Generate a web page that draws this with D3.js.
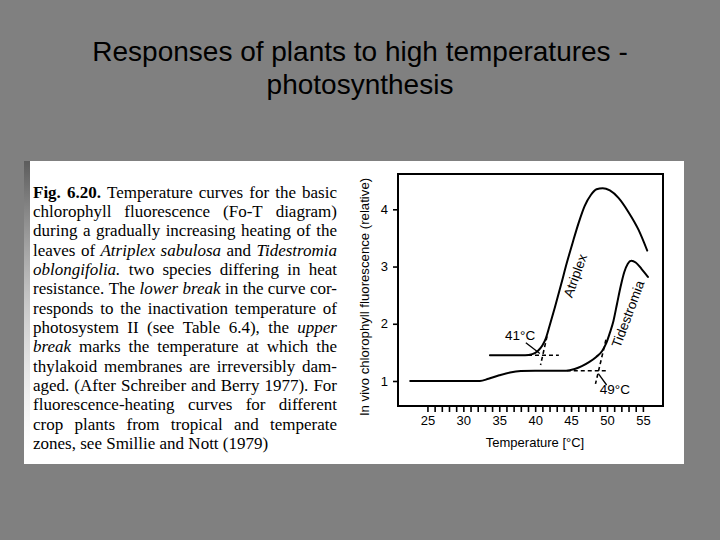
<!DOCTYPE html>
<html><head><meta charset="utf-8">
<script src="https://cdn.jsdelivr.net/npm/d3@7"></script>
<style>html,body{margin:0;padding:0;background:#808080;} svg{display:block}</style>
</head><body>
<svg id="c" width="720" height="540"></svg>
<script>
// ---------- data ----------
const titleLines = ["Responses of plants to high temperatures -", "photosynthesis"];

const captionLines = [
  [["Fig. 6.20.", "b"], ["Temperature curves for the basic", "r"]],
  [["chlorophyll fluorescence (Fo-T diagram)", "r"]],
  [["during a gradually increasing heating of the", "r"]],
  [["leaves of", "r"], ["Atriplex sabulosa", "i"], ["and", "r"], ["Tidestromia", "i"]],
  [["oblongifolia.", "i"], ["two species differing in heat", "r"]],
  [["resistance. The", "r"], ["lower break", "i"], ["in the curve cor-", "r"]],
  [["responds to the inactivation temperature of", "r"]],
  [["photosystem II (see Table 6.4), the", "r"], ["upper", "i"]],
  [["break", "i"], ["marks the temperature at which the", "r"]],
  [["thylakoid membranes are irreversibly dam-", "r"]],
  [["aged. (After Schreiber and Berry 1977). For", "r"]],
  [["fluorescence-heating curves for different", "r"]],
  [["crop plants from tropical and temperate", "r"]],
  [["zones, see Smillie and Nott (1979)", "r"]]
];

const xTicks = [25,26,27,28,29,30,31,32,33,34,35,36,37,38,39,40,41,42,43,44,45,46,47,48,49,50,51,52,53,54,55];
const xTickLabels = [25,30,35,40,45,50,55];
const yTicks = [1,2,3,4];
const xTitle = "Temperature [°C]";
const yTitle = "In vivo chlorophyll fluorescence (relative)";

const atriplex = [[33.7,1.45],[38.6,1.45],[39.6,1.47],[40.4,1.53],[41.0,1.62],[41.5,1.75],[42.0,1.96],
  [42.75,2.29],[43.6,2.68],[44.4,3.06],[45.25,3.43],[46.1,3.78],[46.9,4.06],[47.75,4.25],[48.55,4.35],
  [49.4,4.37],[50.4,4.33],[51.6,4.2],[53.0,3.95],[54.4,3.64],[55.6,3.28]];
const tidestromia = [[22.6,1.0],[32.3,1.0],[33.5,1.04],[35.0,1.1],[36.5,1.15],[38.0,1.175],[40.0,1.18],
  [44.3,1.18],[45.5,1.21],[46.5,1.26],[47.5,1.33],[48.5,1.42],[49.3,1.52],[49.9,1.66],[50.4,1.84],
  [50.9,2.05],[51.4,2.35],[51.9,2.65],[52.4,2.9],[52.9,3.05],[53.4,3.1],[54.0,3.07],[54.8,2.96],[55.7,2.82]];

const dashedLines = [
  [[39.0,1.45],[43.3,1.45]],
  [[41.65,1.78],[40.75,1.28]],
  [[44.4,1.18],[50.0,1.18]],
  [[49.85,1.72],[48.4,0.95]]
];
const pointerLines = [
  [[38.7,1.67],[40.65,1.48]],
  [[48.8,1.13],[49.95,0.93]]
];
const annotations = [
  {text:"41°C", t:37.9, v:1.80, rot:0},
  {text:"49°C", t:51.1, v:0.86, rot:0}
];
const curveLabels = [
  {text:"Atriplex", t:45.6, v:2.84, rot:-70},
  {text:"Tidestromia", t:52.95, v:2.17, rot:-69.5}
];

// ---------- drawing ----------
const svg = d3.select("#c");
svg.append("rect").attr("width",720).attr("height",540).attr("fill","#808080");

// title
svg.append("g").selectAll("text").data(titleLines).join("text")
  .attr("x",360).attr("y",(d,i)=>61+i*33)
  .attr("text-anchor","middle")
  .attr("font-family","'Liberation Sans', Arial, sans-serif")
  .attr("font-size",28).attr("fill","#000").text(d=>d);

// white panel
svg.append("rect").attr("x",24).attr("y",161).attr("width",660).attr("height",303).attr("fill","#fff");
const defs = svg.append("defs");
const grad = defs.append("linearGradient").attr("id","scan").attr("x1",0).attr("y1",0).attr("x2",0).attr("y2",1);
grad.append("stop").attr("offset","0").attr("stop-color","#333").attr("stop-opacity",0.8);
grad.append("stop").attr("offset","0.5").attr("stop-color","#666").attr("stop-opacity",0.35);
grad.append("stop").attr("offset","1").attr("stop-color","#999").attr("stop-opacity",0.0);
svg.append("rect").attr("x",24).attr("y",161).attr("width",6).attr("height",290).attr("fill","url(#scan)");

// caption
const cap = svg.append("g")
  .attr("font-family","'Liberation Serif', 'Times New Roman', serif")
  .attr("font-size",17).attr("fill","#000");
const capLeft = 33, capRight = 337, capTop = 197.5, capLead = 19.35;
captionLines.forEach((segs,i)=>{
  const words = [];
  segs.forEach(([t,s])=>t.split(" ").forEach(w=>words.push([w,s])));
  const yb = capTop + i*capLead;
  const els = words.map(([w,s])=>cap.append("text").attr("y",yb)
    .attr("font-weight", s==="b" ? "bold" : null)
    .attr("font-style", s==="i" ? "italic" : null).text(w));
  const widths = els.map(e=>e.node().getComputedTextLength());
  const total = d3.sum(widths);
  const last = i === captionLines.length-1;
  const gap = last ? 17*0.25 : (capRight-capLeft-total)/(words.length-1);
  let xx = capLeft;
  els.forEach((e,k)=>{ e.attr("x",xx); xx += widths[k]+gap; });
});

// chart
const x = d3.scaleLinear().domain([20.9,57.8]).range([398,663]);
const y = d3.scaleLinear().domain([0.563,4.617]).range([406,174]);
const sans = "'Liberation Sans', Arial, sans-serif";

const xAxis = svg.append("g").attr("transform",`translate(0,${y.range()[0]})`)
  .call(d3.axisBottom(x).tickValues(xTicks).tickSize(6).tickPadding(4)
    .tickFormat(d=>xTickLabels.includes(d) ? d : ""));
const yAxis = svg.append("g").attr("transform",`translate(${x.range()[0]},0)`)
  .call(d3.axisLeft(y).tickValues(yTicks).tickSize(5).tickPadding(5).tickFormat(d3.format("d")));
[xAxis,yAxis].forEach(a=>{
  a.select(".domain").remove();
  a.selectAll(".tick line").attr("stroke","#000").attr("stroke-width",1.6);
  a.selectAll("text").attr("font-family",sans).attr("font-size",13).attr("fill","#000");
});

svg.append("rect").attr("x",x.range()[0]).attr("y",y.range()[1])
  .attr("width",x.range()[1]-x.range()[0]).attr("height",y.range()[0]-y.range()[1])
  .attr("fill","none").attr("stroke","#000").attr("stroke-width",2);

svg.append("text").attr("x",535).attr("y",447).attr("text-anchor","middle")
  .attr("font-family",sans).attr("font-size",13).attr("fill","#000").text(xTitle);
svg.append("text").attr("transform","translate(369,297) rotate(-90)").attr("text-anchor","middle")
  .attr("font-family",sans).attr("font-size",13.2).attr("fill","#000").text(yTitle);

const line = d3.line().x(d=>x(d[0])).y(d=>y(d[1])).curve(d3.curveMonotoneX);
svg.append("g").selectAll("path").data([atriplex, tidestromia]).join("path")
  .attr("d",line).attr("fill","none").attr("stroke","#000").attr("stroke-width",2)
  .attr("stroke-linejoin","round").attr("stroke-linecap","round");

const straight = d3.line().x(d=>x(d[0])).y(d=>y(d[1]));
svg.append("g").selectAll("path").data(dashedLines).join("path")
  .attr("d",straight).attr("fill","none").attr("stroke","#000").attr("stroke-width",1.6)
  .attr("stroke-dasharray","4,3");
svg.append("g").selectAll("path").data(pointerLines).join("path")
  .attr("d",straight).attr("fill","none").attr("stroke","#000").attr("stroke-width",1.3);

svg.append("g").selectAll("text").data(annotations.concat(curveLabels)).join("text")
  .attr("transform",d=>`translate(${x(d.t)},${y(d.v)}) rotate(${d.rot})`)
  .attr("text-anchor","middle").attr("dominant-baseline","central")
  .attr("font-family",sans).attr("font-size",13.5).attr("fill","#000").text(d=>d.text);
</script>
</body></html>
